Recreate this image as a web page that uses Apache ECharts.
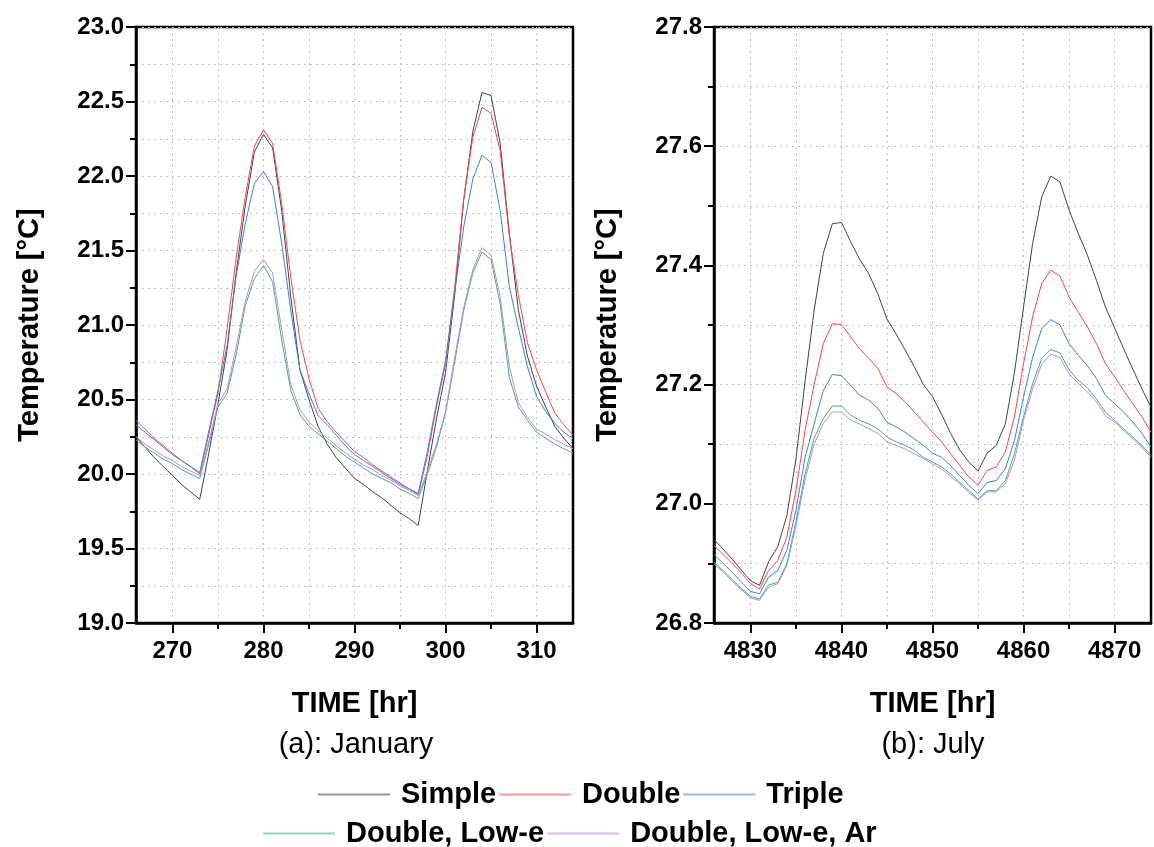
<!DOCTYPE html>
<html>
<head>
<meta charset="utf-8">
<script src="https://cdn.jsdelivr.net/npm/echarts@6/dist/echarts.min.js"></script>
<style>
  html, body { margin: 0; padding: 0; background: #fff; }
  #chart { width: 1154px; height: 847px; }
</style>
</head>
<body>
<div id="chart"></div>
<script>
var janStart = 266
var julStart = 4826
var seriesNames = ['Simple', 'Double', 'Triple', 'Double, Low-e', 'Double, Low-e, Ar']
var seriesColors = ['#444444', '#ff4545', '#3a7fe6', '#3fb37a', '#b88ae8']

// (a) January, hourly from 266 to 314
var janSimple = [20.25, 20.18, 20.11, 20.05, 19.99, 19.93, 19.88, 19.83, 20.14, 20.47,
  20.83, 21.35, 21.8, 22.16, 22.28, 22.19, 21.77, 21.19, 20.7, 20.5,
  20.32, 20.2, 20.11, 20.04, 19.97, 19.93, 19.88, 19.84, 19.79, 19.74,
  19.7, 19.655, 20.02, 20.37, 20.68, 21.2, 21.84, 22.3, 22.56, 22.54,
  22.22, 21.62, 21.1, 20.79, 20.59, 20.45, 20.32, 20.24, 20.17]
var janDouble = [20.36, 20.3, 20.24, 20.19, 20.14, 20.09, 20.05, 20.0, 20.27, 20.54,
  20.97, 21.45, 21.86, 22.2, 22.31, 22.22, 21.82, 21.32, 20.9, 20.64,
  20.44, 20.35, 20.28, 20.215, 20.15, 20.11, 20.06, 20.02, 19.98, 19.94,
  19.9, 19.86, 20.12, 20.45, 20.74, 21.25, 21.85, 22.26, 22.46, 22.42,
  22.17, 21.6, 21.2, 20.88, 20.7, 20.55, 20.41, 20.33, 20.26]
var janTriple = [20.33, 20.28, 20.23, 20.18, 20.13, 20.09, 20.05, 20.01, 20.29, 20.56,
  20.86, 21.33, 21.68, 21.95, 22.03, 21.93, 21.55, 21.1, 20.7, 20.54,
  20.39, 20.33, 20.26, 20.19, 20.13, 20.09, 20.05, 20.01, 19.97, 19.93,
  19.9, 19.87, 20.15, 20.47, 20.76, 21.22, 21.66, 21.98, 22.14, 22.09,
  21.77, 21.26, 20.98, 20.72, 20.52, 20.42, 20.34, 20.28, 20.24]
var janLowE = [20.23, 20.18, 20.14, 20.1, 20.07, 20.03, 20.0, 19.97, 20.2, 20.45,
  20.54, 20.8, 21.13, 21.31, 21.4, 21.29, 20.9, 20.56, 20.4, 20.32,
  20.27, 20.22, 20.17, 20.12, 20.08, 20.04, 20.0, 19.97, 19.94, 19.9,
  19.87, 19.835, 20.0, 20.18, 20.41, 20.75, 21.1, 21.35, 21.49, 21.44,
  21.14, 20.65, 20.45, 20.36, 20.28, 20.24, 20.2, 20.17, 20.14]
var janLowEAr = [20.25, 20.2, 20.16, 20.12, 20.09, 20.05, 20.02, 19.99, 20.22, 20.47,
  20.57, 20.85, 21.16, 21.36, 21.44, 21.35, 20.97, 20.6, 20.43, 20.35,
  20.29, 20.24, 20.19, 20.14, 20.1, 20.06, 20.03, 19.99, 19.96, 19.92,
  19.89, 19.855, 20.02, 20.2, 20.42, 20.78, 21.12, 21.37, 21.52, 21.47,
  21.19, 20.72, 20.48, 20.38, 20.3, 20.27, 20.23, 20.2, 20.17]

// (b) July, hourly from 4826 to 4874
var julSimple = [26.94, 26.924, 26.907, 26.889, 26.871, 26.863, 26.903, 26.928, 26.98, 27.075,
  27.205, 27.325, 27.42, 27.47, 27.472, 27.44, 27.41, 27.386, 27.352, 27.31,
  27.285, 27.258, 27.23, 27.2, 27.18, 27.15, 27.118, 27.09, 27.07, 27.055,
  27.085, 27.098, 27.134, 27.22, 27.33, 27.437, 27.515, 27.55, 27.54, 27.493,
  27.454, 27.418, 27.375, 27.33, 27.295, 27.26, 27.226, 27.193, 27.162]
var julDouble = [26.93, 26.915, 26.9, 26.884, 26.866, 26.857, 26.888, 26.905, 26.944, 27.022,
  27.123, 27.2, 27.269, 27.302, 27.301, 27.28, 27.26, 27.244, 27.227, 27.196,
  27.185, 27.171, 27.154, 27.137, 27.12, 27.104, 27.084, 27.064, 27.045, 27.031,
  27.056, 27.062, 27.087, 27.146, 27.235, 27.314, 27.37, 27.392, 27.382, 27.347,
  27.322, 27.297, 27.269, 27.235, 27.213, 27.19, 27.168, 27.146, 27.12]
var julTriple = [26.915, 26.9, 26.885, 26.869, 26.853, 26.849, 26.877, 26.888, 26.922, 26.989,
  27.078, 27.134, 27.19, 27.217, 27.215, 27.199, 27.182, 27.174, 27.16, 27.137,
  27.129, 27.12, 27.109, 27.098, 27.085, 27.078, 27.064, 27.047, 27.031, 27.017,
  27.036, 27.039, 27.059, 27.106, 27.179, 27.246, 27.294, 27.309, 27.3, 27.269,
  27.249, 27.232, 27.21, 27.182, 27.168, 27.154, 27.137, 27.118, 27.095]
var julLowE = [26.902, 26.888, 26.873, 26.858, 26.845, 26.84, 26.864, 26.868, 26.9, 26.97,
  27.05, 27.11, 27.143, 27.164, 27.164, 27.149, 27.14, 27.134, 27.126, 27.112,
  27.104, 27.098, 27.09, 27.078, 27.07, 27.062, 27.05, 27.036, 27.022, 27.008,
  27.022, 27.022, 27.039, 27.084, 27.146, 27.202, 27.244, 27.259, 27.253, 27.225,
  27.207, 27.195, 27.176, 27.154, 27.14, 27.126, 27.112, 27.098, 27.081]
var julLowEAr = [26.899, 26.886, 26.87, 26.856, 26.842, 26.838, 26.86, 26.866, 26.896, 26.963,
  27.04, 27.1, 27.135, 27.154, 27.154, 27.14, 27.134, 27.126, 27.118, 27.104,
  27.098, 27.092, 27.084, 27.076, 27.067, 27.058, 27.046, 27.033, 27.019, 27.006,
  27.02, 27.02, 27.034, 27.073, 27.14, 27.193, 27.235, 27.251, 27.245, 27.218,
  27.202, 27.188, 27.171, 27.148, 27.137, 27.123, 27.109, 27.095, 27.078]

var janHours = []
var julHours = []
for (var i = 0; i < janSimple.length; i++) {
  janHours.push(String(janStart + i))
  julHours.push(String(julStart + i))
}

var fontFam = "'Liberation Sans', Arial, sans-serif"
var gridDots = { color: '#c4c4c4', width: 1, type: [2, 4] }

function every(n) {
  return function(index, value) {
    return (+value) % n === 0
  }
}

function xAxes(gridIndex, hours) {
  return [
    {
      gridIndex: gridIndex,
      type: 'category',
      position: 'bottom',
      data: hours,
      boundaryGap: false,
      name: 'TIME [hr]',
      nameLocation: 'middle',
      nameGap: 66,
      nameTextStyle: { fontSize: 29, fontWeight: 'bold', color: '#000' },
      axisLine: { show: true, lineStyle: { color: '#000', width: 2.5 } },
      axisTick: { show: true, interval: every(10), length: 10, lineStyle: { color: '#000', width: 2 } },
      axisLabel: { interval: every(10), fontSize: 24, fontWeight: 'bold', color: '#000', margin: 16 },
      splitLine: { show: true, interval: every(5), lineStyle: gridDots }
    },
    {
      // shorter ticks every 5 hours
      gridIndex: gridIndex,
      type: 'category',
      position: 'bottom',
      data: hours,
      boundaryGap: false,
      axisLine: { show: false },
      axisTick: { show: true, interval: every(5), length: 6, lineStyle: { color: '#000', width: 2 } },
      axisLabel: { show: false },
      splitLine: { show: false }
    }
  ]
}

function yAxis(gridIndex, min, max, step) {
  return {
    gridIndex: gridIndex,
    type: 'value',
    min: min,
    max: max,
    interval: step,
    name: 'Temperature [°C]',
    nameLocation: 'middle',
    nameGap: 92,
    nameTextStyle: { fontSize: 29, fontWeight: 'bold', color: '#000' },
    axisLine: { show: true, lineStyle: { color: '#000', width: 2.5 } },
    axisTick: { show: true, length: 10, lineStyle: { color: '#000', width: 2 } },
    minorTick: { show: true, splitNumber: 2, length: 6, lineStyle: { color: '#000', width: 2 } },
    splitLine: { show: true, lineStyle: gridDots },
    minorSplitLine: { show: true, lineStyle: gridDots },
    axisLabel: {
      fontSize: 24, fontWeight: 'bold', color: '#000', margin: 12,
      formatter: function(v) { return v.toFixed(1) }
    }
  }
}

function lineSeries(name, color, xIdx, yIdx, hours, values) {
  var pts = []
  for (var i = 0; i < values.length; i++) pts.push([hours[i], values[i]])
  return {
    name: name,
    type: 'line',
    xAxisIndex: xIdx,
    yAxisIndex: yIdx,
    data: pts,
    symbol: 'none',
    lineStyle: { color: color, width: 1 },
    itemStyle: { color: color },
    emphasis: { disabled: true }
  }
}

var janData = [janSimple, janDouble, janTriple, janLowE, janLowEAr]
var julData = [julSimple, julDouble, julTriple, julLowE, julLowEAr]
var series = []
for (var s = 0; s < seriesNames.length; s++) {
  series.push(lineSeries(seriesNames[s], seriesColors[s], 0, 0, janHours, janData[s]))
  series.push(lineSeries(seriesNames[s], seriesColors[s], 2, 1, julHours, julData[s]))
}

var legendText = { fontSize: 29, fontWeight: 'bold', color: '#000', padding: [0, 0, 0, 6] }

function legendRow(names, left, top) {
  return {
    data: names,
    left: left,
    top: top,
    icon: 'rect',
    itemWidth: 72,
    itemHeight: 2,
    itemGap: 3,
    itemStyle: { opacity: 0.55 },
    textStyle: legendText
  }
}

var option = {
  animation: false,
  backgroundColor: '#fff',
  textStyle: { fontFamily: fontFam },
  grid: [
    { left: 136, top: 27, width: 437, height: 596, show: true, borderColor: '#000', borderWidth: 2.5 },
    { left: 714, top: 27, width: 437, height: 596, show: true, borderColor: '#000', borderWidth: 2.5 }
  ],
  xAxis: xAxes(0, janHours).concat(xAxes(1, julHours)),
  yAxis: [yAxis(0, 19, 23, 0.5), yAxis(1, 26.8, 27.8, 0.2)],
  legend: [
    legendRow(['Simple', 'Double', 'Triple'], 313, 775),
    legendRow(['Double, Low-e', 'Double, Low-e, Ar'], 258, 814)
  ],
  graphic: [
    { type: 'text', x: 356, y: 745, style: { text: '(a): January', fontSize: 29, fontFamily: fontFam, fill: '#000', align: 'center', verticalAlign: 'middle' } },
    { type: 'text', x: 933, y: 745, style: { text: '(b): July', fontSize: 29, fontFamily: fontFam, fill: '#000', align: 'center', verticalAlign: 'middle' } }
  ],
  series: series
}

var myChart = echarts.init(document.getElementById('chart'))
myChart.setOption(option)
</script>
</body>
</html>
